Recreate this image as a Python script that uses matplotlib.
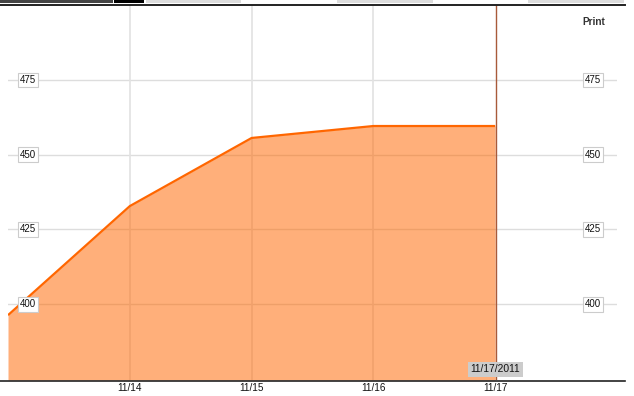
import matplotlib
matplotlib.use("Agg")
import matplotlib.pyplot as plt
from matplotlib.lines import Line2D
from matplotlib.patches import Rectangle

plt.rcParams['font.family'] = ['Liberation Sans', 'DejaVu Sans']

# Data
days = [13, 14, 15, 16, 17]
values = [396.3, 432.8, 455.6, 459.6, 459.6]
xtick_days = [14, 15, 16, 17]
xtick_labels = ["11/14", "11/15", "11/16", "11/17"]
ytick_values = [400, 425, 450, 475]
cursor_day = 17
cursor_label = "11/17/2011"
series_name = "Print"

W, H = 634, 396
fig = plt.figure(figsize=(W / 100, H / 100), dpi=100)

def fx(px):
    return px / W

def fy(py):
    return 1 - py / H

ax_l, ax_r, ax_t, ax_b = 8, 617, 5, 380
ax = fig.add_axes([fx(ax_l), fy(ax_b), fx(ax_r) - fx(ax_l), fy(ax_t) - fy(ax_b)])
ax.set_xlim(13, 18)
ax.set_ylim(374.6, 500.1)
for s in ax.spines.values():
    s.set_visible(False)
ax.set_xticks([])
ax.set_yticks([])
ax.patch.set_alpha(0)

# gridlines
for yv in ytick_values:
    ax.axhline(yv, color='#dddddd', lw=1.0, zorder=0)
for xd in xtick_days:
    if xd != cursor_day:
        ax.axvline(xd, color='#e2e2e2', lw=1.2, zorder=0)

# area
ax.fill_between(days, values, 374.6, color='#ff6600', alpha=0.52, lw=0, zorder=1)
ax.plot(days, values, color='#ff6600', lw=1.6, zorder=2, solid_capstyle='butt')

# cursor line
ax.axvline(cursor_day + 0.01, color='#a85a3a', lw=1.0, zorder=3)

# x tick labels
for xd, lab in zip(xtick_days, xtick_labels):
    ax.text(xd, 374.6 - 1.0, lab, ha='center', va='top', fontsize=7.2,
            color='#111111', clip_on=False)

# y labels (boxed), left and right
for yv in ytick_values:
    for xpix in (28, 593):
        xd = 13 + (xpix - ax_l) / (ax_r - ax_l) * 5
        ax.text(xd, yv, str(yv), ha='center', va='center', fontsize=7.0,
                color='#111111', zorder=5,
                bbox=dict(boxstyle='square,pad=0.25', fc='white', ec='#cccccc', lw=0.8))

# cursor date label
ax.text(cursor_day, 374.6 + 1.9, cursor_label, ha='center', va='bottom', fontsize=7.4,
        color='#111111', zorder=6,
        bbox=dict(boxstyle='square,pad=0.25', fc='#cccccc', ec='none'))

# series name
fig.text(fx(594), fy(22), series_name, ha='center', va='center', fontsize=7.2,
         fontweight='bold', color='#333333')

# top and bottom frame lines
fig.add_artist(Line2D([fx(0), fx(625)], [fy(4.5), fy(4.5)], color='#222222', lw=1.4))
fig.add_artist(Line2D([fx(0), fx(625)], [fy(380.5), fy(380.5)], color='#222222', lw=1.2))

# top tabs
tabs = [(0, 113, '#444444'), (114, 144, '#000000'), (146, 241, '#dddddd'),
        (337, 433, '#dddddd'), (528, 624, '#dddddd')]
for x0, x1, c in tabs:
    fig.add_artist(Rectangle((fx(x0), fy(2.5)), fx(x1 - x0), 2.5 / H, color=c, lw=0,
                             transform=fig.transFigure))

fig.savefig('out.png', dpi=100)
